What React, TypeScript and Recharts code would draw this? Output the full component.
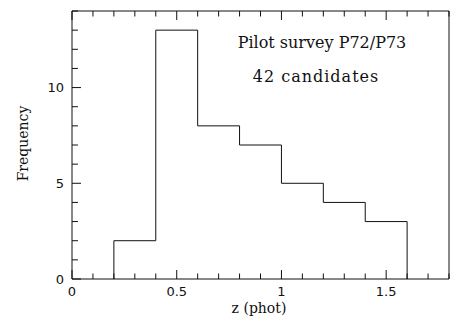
import { ComposedChart, Customized, Line, XAxis, YAxis } from "recharts";

// histogram of photometric redshifts, bin edges and counts per bin
const binEdges = [0.2, 0.4, 0.6, 0.8, 1.0, 1.2, 1.4, 1.6];
const counts = [2, 13, 8, 7, 5, 4, 3];

const xTicks = [0, 0.1, 0.2, 0.3, 0.4, 0.5, 0.6, 0.7, 0.8, 0.9, 1.0, 1.1, 1.2, 1.3, 1.4, 1.5, 1.6, 1.7, 1.8];
const xMajor = [0, 0.5, 1, 1.5];
const yTicks = [0, 1, 2, 3, 4, 5, 6, 7, 8, 9, 10, 11, 12, 13, 14];
const yMajor = [0, 5, 10];

// outline of the histogram as a step line
const steps = [
  { x: binEdges[0], y: 0 },
  ...counts.map((c, i) => ({ x: binEdges[i], y: c })),
  { x: binEdges[binEdges.length - 1], y: 0 },
];

const INK = "#111";
const numFont = "'DejaVu Sans', sans-serif";
const textFont = "'DejaVu Serif', serif";

const isMajor = (v: number, majors: number[]) => majors.some((m) => Math.abs(m - v) < 1e-6);

function XTick(props: any) {
  const { x, y, payload, side } = props;
  const v = payload.value;
  const major = isMajor(v, xMajor);
  const len = major ? 9 : 5.5;
  const dir = side === "bottom" ? -1 : 1;
  return (
    <g>
      <line x1={x} x2={x} y1={y} y2={y + dir * len} stroke={INK} strokeWidth={1} />
      {side === "bottom" && major && (
        <text x={x} y={y + 17} textAnchor="middle" fontFamily={numFont} fontSize={13} fill={INK}>
          {String(v)}
        </text>
      )}
    </g>
  );
}

function YTick(props: any) {
  const { x, y, payload, side } = props;
  const v = payload.value;
  const major = isMajor(v, yMajor);
  const len = major ? 9 : 6;
  const dir = side === "left" ? 1 : -1;
  return (
    <g>
      <line x1={x} x2={x + dir * len} y1={y} y2={y} stroke={INK} strokeWidth={1} />
      {side === "left" && major && (
        <text x={x - 8} y={y} dy="0.36em" textAnchor="end" fontFamily={numFont} fontSize={13} fill={INK}>
          {String(v)}
        </text>
      )}
    </g>
  );
}

function Notes() {
  return (
    <g fontFamily={textFont} fill={INK}>
      <text x={322} y={48} textAnchor="middle" fontSize={16}>
        Pilot survey P72/P73
      </text>
      <text x={316} y={82} textAnchor="middle" fontSize={16} letterSpacing={1}>
        42 candidates
      </text>
      <text x={259} y={313} textAnchor="middle" fontSize={14}>
        z (phot)
      </text>
      <text x={28} y={143.5} textAnchor="middle" fontSize={14} transform="rotate(-90 28 143.5)">
        Frequency
      </text>
    </g>
  );
}

export default function App() {
  return (
    <div style={{ position: "absolute", left: 0, top: 0, width: 465, height: 325, background: "#fff" }}>
      <ComposedChart
        width={465}
        height={325}
        data={steps}
        margin={{ top: 10, right: 15, bottom: 16, left: 32 }}
      >
        <XAxis
          xAxisId="b"
          dataKey="x"
          type="number"
          domain={[0, 1.8]}
          ticks={xTicks}
          interval={0}
          height={30}
          tickSize={0}
          tickMargin={0}
          tickLine={false}
          axisLine={{ stroke: INK }}
          tick={(p: any) => <XTick {...p} side="bottom" />}
        />
        <XAxis
          xAxisId="t"
          orientation="top"
          dataKey="x"
          type="number"
          domain={[0, 1.8]}
          ticks={xTicks}
          interval={0}
          height={1}
          tickSize={0}
          tickMargin={0}
          tickLine={false}
          axisLine={{ stroke: INK }}
          tick={(p: any) => <XTick {...p} side="top" />}
        />
        <YAxis
          yAxisId="l"
          type="number"
          domain={[0, 14]}
          ticks={yTicks}
          interval={0}
          width={40}
          tickSize={0}
          tickMargin={0}
          tickLine={false}
          axisLine={{ stroke: INK }}
          tick={(p: any) => <YTick {...p} side="left" />}
        />
        <YAxis
          yAxisId="r"
          orientation="right"
          type="number"
          domain={[0, 14]}
          ticks={yTicks}
          interval={0}
          width={1}
          tickSize={0}
          tickMargin={0}
          tickLine={false}
          axisLine={{ stroke: INK }}
          tick={(p: any) => <YTick {...p} side="right" />}
        />
        <Line
          xAxisId="b"
          yAxisId="l"
          dataKey="y"
          type="stepAfter"
          stroke={INK}
          strokeWidth={1}
          dot={false}
          activeDot={false}
          isAnimationActive={false}
        />
        <Customized component={Notes} />
      </ComposedChart>
    </div>
  );
}
